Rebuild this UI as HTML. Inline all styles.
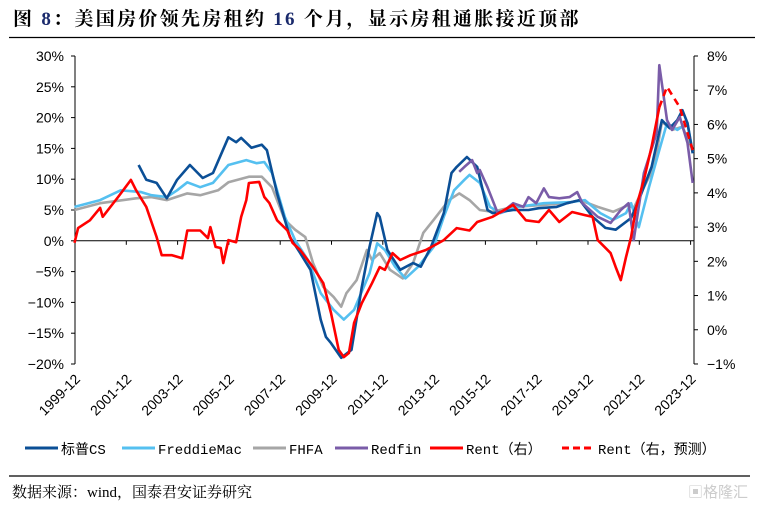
<!DOCTYPE html>
<html><head><meta charset="utf-8">
<style>
html,body{margin:0;padding:0;background:#fff;}
body{width:762px;height:509px;overflow:hidden;position:relative;}
svg{position:absolute;left:0;top:0;}
</style></head>
<body>
<svg id="chart" width="762" height="509" viewBox="0 0 762 509">
<text x="13" y="25" font-family="'Liberation Serif','Noto Serif CJK SC',serif" font-size="19" font-weight="bold" letter-spacing="2.3" fill="#000">图 <tspan fill="#1a2a6c">8</tspan>：美国房价领先房租约 <tspan fill="#1a2a6c">16</tspan> 个月，显示房租通胀接近顶部</text>
<line x1="9" y1="37.5" x2="755" y2="37.5" stroke="#000" stroke-width="1.2"/>
<line x1="9" y1="476" x2="750" y2="476" stroke="#000" stroke-width="1.2"/>
<text x="12" y="497" font-family="'Liberation Serif','Noto Serif CJK SC',serif" font-size="15" fill="#000">数据来源：wind，国泰君安证券研究</text>
<text x="688" y="497" font-family="'Liberation Sans','Noto Sans CJK SC',sans-serif" font-size="15" fill="#ccc">▣格隆汇</text>
<g id="plot"></g>
</svg>
<script>
const leftTicks=[30,25,20,15,10,5,0,-5,-10,-15,-20];
const rightTicks=[8,7,6,5,4,3,2,1,0,-1];
const xTickYears=[1999,2001,2003,2005,2007,2009,2011,2013,2015,2017,2019,2021,2023];
const csT=[2002.4,2002.7,2003.1,2003.5,2003.9,2004.4,2004.9,2005.3,2005.9,2006.2,2006.4,2006.8,2007.2,2007.4,2007.8,2008.3,2008.7,2009.1,2009.5,2009.7,2009.9,2010.3,2010.7,2011.1,2011.4,2011.7,2011.8,2012.1,2012.6,2013.1,2013.4,2013.8,2014.3,2014.6,2014.8,2015.2,2015.6,2016.0,2016.2,2017.0,2017.6,2018.0,2018.7,2019.1,2019.6,2020.1,2020.6,2021.0,2021.6,2021.9,2022.4,2022.8,2023.1,2023.4,2023.6,2023.8,2024.0];
const csV=[12.3,9.9,9.4,6.9,9.9,12.3,10.2,11.0,16.8,16.0,16.7,15.1,15.6,14.7,7.7,0.6,-2.0,-4.7,-12.8,-15.6,-16.6,-19.0,-17.7,-7.5,-1.0,4.5,3.9,-1.5,-4.7,-3.6,-4.2,-1.0,4.5,11.0,12.0,13.6,12.0,5.0,4.5,5.0,5.0,5.3,5.5,6.1,6.6,3.9,2.1,1.8,3.7,6.6,12.0,19.6,18.3,19.6,21.2,19.1,14.2];
const fmT=[1999.9,2000.9,2001.7,2002.5,2002.9,2003.5,2003.9,2004.3,2004.8,2005.3,2005.9,2006.6,2007.0,2007.3,2007.6,2008.1,2008.5,2009.0,2009.5,2010.0,2010.4,2010.8,2011.4,2011.7,2012.0,2012.4,2012.8,2013.3,2013.9,2014.3,2014.7,2015.1,2015.3,2015.7,2016.1,2016.5,2017.2,2018.2,2019.3,2019.8,2020.4,2020.9,2021.4,2021.6,2021.9,2022.3,2022.7,2023.0,2023.4,2023.8,2024.0];
const fmV=[5.5,6.6,8.2,7.9,7.4,7.1,8.2,9.5,8.7,9.4,12.3,13.1,12.6,12.8,11.0,3.9,0.1,-3.1,-8.5,-11.2,-12.8,-11.2,-5.3,-0.4,-1.5,-4.2,-6.1,-4.2,-1.0,3.9,8.2,9.9,10.7,9.4,5.5,4.5,5.5,6.1,6.3,6.6,4.5,3.4,4.5,6.1,2.2,8.7,14.7,19.1,18.0,19.1,14.4];
const fhT=[1999.9,2000.9,2002.3,2002.9,2003.5,2004.3,2004.8,2005.5,2005.9,2006.7,2007.2,2007.6,2008.1,2008.5,2008.9,2009.2,2009.6,2010.0,2010.3,2010.5,2010.9,2011.3,2011.5,2011.8,2012.2,2012.7,2013.1,2013.5,2013.9,2014.5,2014.9,2015.3,2015.7,2016.2,2017.0,2018.1,2019.1,2019.6,2020.3,2020.9,2021.5,2021.7,2022.1,2022.5,2022.8,2023.2,2023.6,2024.0];
const fhV=[5.0,6.1,6.9,7.1,6.6,7.7,7.4,8.2,9.5,10.4,10.4,8.7,3.4,1.8,0.6,-3.6,-7.5,-9.1,-10.7,-8.5,-6.4,-1.5,-3.1,-2.0,-4.7,-6.1,-3.6,1.3,3.4,6.6,7.7,6.6,5.0,4.7,5.5,5.8,6.1,6.6,5.5,4.7,5.8,5.3,8.7,12.0,19.3,18.0,18.5,14.7];
const rfT=[2014.9,2015.1,2015.4,2015.6,2015.7,2016.0,2016.4,2016.6,2017.0,2017.4,2017.6,2017.9,2018.2,2018.4,2018.8,2019.2,2019.5,2019.7,2020.3,2020.8,2021.2,2021.5,2021.7,2022.1,2022.6,2022.7,2023.0,2023.2,2023.5,2023.8,2024.0];
const rfV=[11.2,12.0,13.1,11.0,11.5,8.7,4.5,4.7,6.1,5.5,7.1,6.1,8.5,7.1,6.9,7.1,7.9,6.1,3.9,2.9,5.0,6.1,0.1,11.0,17.5,28.5,19.6,18.0,20.1,15.9,9.4];
const rentT=[1999.9,2000.04,2000.5,2000.9,2001.0,2001.6,2002.1,2002.3,2002.7,2003.1,2003.3,2003.7,2004.1,2004.3,2004.8,2005.1,2005.2,2005.4,2005.6,2005.7,2005.9,2006.2,2006.4,2006.6,2006.7,2007.1,2007.3,2007.5,2007.8,2008.2,2008.4,2008.7,2009.2,2009.6,2009.9,2010.2,2010.4,2010.6,2010.8,2011.1,2011.5,2011.8,2012.0,2012.3,2012.6,2013.0,2013.6,2014.3,2014.8,2015.3,2015.6,2016.2,2017.0,2017.5,2018.0,2018.4,2018.8,2019.3,2019.8,2020.1,2020.3,2020.8,2021.0,2021.2,2021.4,2021.6,2021.8,2022.1,2022.4,2022.7];
const rentV=[2.54,2.97,3.2,3.56,3.3,3.88,4.38,4.08,3.59,2.71,2.18,2.18,2.09,2.9,2.9,2.68,3.0,2.42,2.39,1.95,2.62,2.56,3.3,3.79,4.29,4.32,3.88,3.7,3.2,2.9,2.54,2.33,1.83,1.36,0.49,-0.59,-0.8,-0.68,0.2,0.78,1.36,1.83,1.75,2.24,2.04,2.18,2.33,2.62,2.97,2.9,3.15,3.3,3.65,3.2,3.15,3.5,3.15,3.44,3.35,3.3,2.62,2.24,1.83,1.45,2.12,2.71,3.59,4.38,5.35,6.5];
const fcT=[2022.7,2023.0,2023.5,2024.0];
const fcV=[6.5,7.1,6.5,5.25];

const NS='http://www.w3.org/2000/svg';
const g=document.getElementById('plot');
const X0=75,X1=694,T0=1999.92,PXY=25.65;
function xs(t){return X0+(t-T0)*PXY;}
function yl(v){return 56+(30-v)*6.16;}
function yr(v){return 56+(8-v)*34.22;}
function mk(tag,attrs){const e=document.createElementNS(NS,tag);for(const k in attrs)e.setAttribute(k,attrs[k]);g.appendChild(e);return e;}
const fs="'Liberation Sans','Noto Sans CJK SC',sans-serif";
let e=mk('line',{x1:X0,y1:56,x2:X0,y2:364,stroke:'#000','stroke-width':1});


e=mk('line',{x1:X1,y1:56,x2:X1,y2:364,stroke:'#000','stroke-width':1});


e=mk('line',{x1:X0,y1:yl(0),x2:X1,y2:yl(0),stroke:'#000','stroke-width':1});


leftTicks.forEach(v=>{
  const y=yl(v);
  const t=mk('line',{x1:X0-4,y1:y,x2:X0,y2:y,stroke:'#000'});
  
  
  const l=mk('text',{x:X0-11,y:y+5,'text-anchor':'end','font-family':fs,'font-size':14,fill:'#000'});
  l.textContent=(v<0?'\u2212'+(-v):v)+'%';
  
  
});
rightTicks.forEach(v=>{
  const y=yr(v);
  const t=mk('line',{x1:X1,y1:y,x2:X1+4,y2:y,stroke:'#000'});
  
  
  const l=mk('text',{x:X1+13,y:y+5,'font-family':fs,'font-size':14,fill:'#000'});
  l.textContent=(v<0?'\u2212'+(-v):v)+'%';
  
  
});
xTickYears.forEach(yv=>{
  const x=xs(yv+0.92);
  const t=mk('line',{x1:x,y1:yl(0),x2:x,y2:yl(0)+4,stroke:'#000'});
  
  
  const l=mk('text',{x:0,y:0,'text-anchor':'end','font-family':fs,'font-size':14,fill:'#000',transform:`translate(${x+6},${380}) rotate(-45)`});
  l.textContent=yv+'-12';
  
  
});
function series(T,V,yf,color,name,dash){
  const d=T.map((t,i)=>(i?'L':'M')+xs(t).toFixed(1)+','+yf(V[i]).toFixed(1)).join('');
  const p=mk('path',{d:d,fill:'none',stroke:color,'stroke-width':2.6,'stroke-linejoin':'round'});
  if(dash)p.setAttribute('stroke-dasharray',dash);
  
  
}
series(fhT,fhV,yl,'#a6a6a6','fhfa-line');
series(fmT,fmV,yl,'#55c0f0','freddiemac-line');
series(csT,csV,yl,'#0b4f96','cs-line');
series(rfT,rfV,yl,'#7a5ca8','redfin-line');
series(rentT,rentV,yr,'#ff0000','rent-line');
series(fcT,fcV,yr,'#ff0000','rent-forecast-line','7,5');
const leg=[['标普CS','#0b4f96',25,0],['FreddieMac','#55c0f0',122,0],['FHFA','#a6a6a6',253,0],['Redfin','#7a5ca8',335,0],['Rent（右）','#ff0000',430,0],['Rent（右，预测）','#ff0000',562,1]];
leg.forEach(it=>{
  const ln=mk('line',{x1:it[2],y1:448,x2:it[2]+33,y2:448,stroke:it[1],'stroke-width':3});
  if(it[3])ln.setAttribute('stroke-dasharray','7,4');
  
  
  const tx=mk('text',{x:it[2]+36,y:454,'font-family':"'Liberation Mono','WenQuanYi Zen Hei',monospace",'font-size':14,fill:'#000'});
  tx.textContent=it[0];
  
  
});
</script>
</body></html>
